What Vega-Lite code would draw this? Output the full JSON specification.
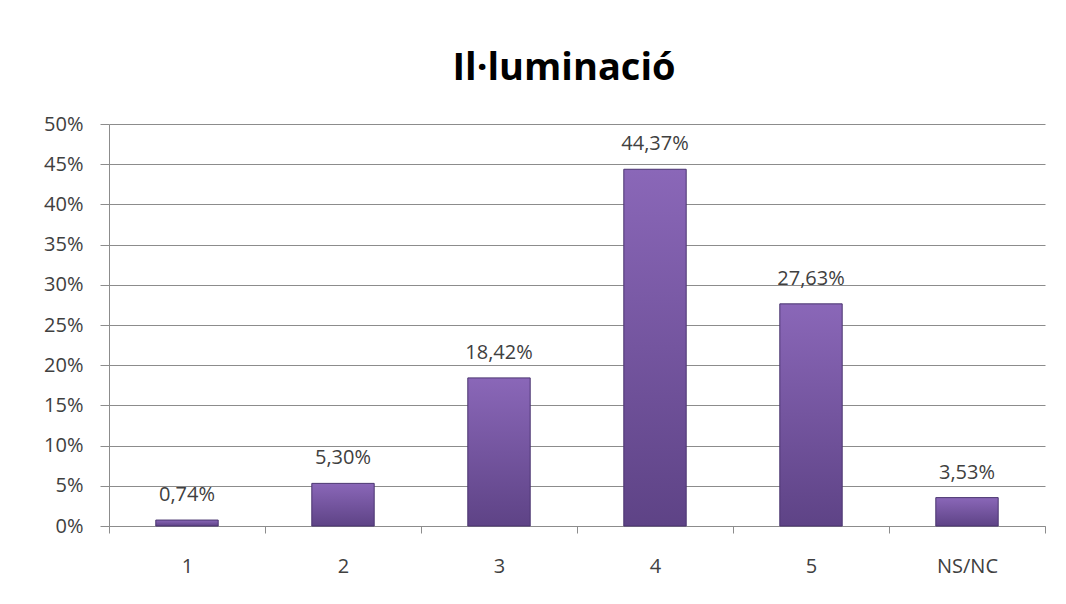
{
  "$schema": "https://vega.github.io/schema/vega-lite/v6.json",
  "autosize": "none",
  "width": 936,
  "height": 402,
  "padding": {"left": 109, "top": 124, "right": 21, "bottom": 78},
  "background": "white",
  "title": {
    "text": "Il·luminació",
    "font": "Open Sans",
    "fontSize": 38,
    "fontWeight": "bold",
    "color": "#000000",
    "anchor": "middle",
    "frame": "group",
    "dx": -13,
    "dy": 5,
    "offset": 31
  },
  "data": {
    "values": [
      {"cat": "1", "value": 0.0074},
      {"cat": "2", "value": 0.053},
      {"cat": "3", "value": 0.1842},
      {"cat": "4", "value": 0.4437},
      {"cat": "5", "value": 0.2763},
      {"cat": "NS/NC", "value": 0.0353}
    ]
  },
  "encoding": {
    "x": {
      "field": "cat",
      "type": "nominal",
      "sort": null,
      "scale": {"paddingInner": 0, "paddingOuter": 0},
      "axis": {
        "title": null,
        "labelAngle": 0,
        "tickBand": "extent",
        "tickSize": 7,
        "tickColor": "#8c8c8c",
        "domainColor": "#8c8c8c",
        "labelPadding": 23,
        "labelFont": "Open Sans",
        "labelFontSize": 20,
        "labelColor": "#404040",
        "grid": false
      }
    },
    "y": {
      "field": "value",
      "type": "quantitative",
      "scale": {"domain": [0, 0.5]},
      "axis": {
        "title": null,
        "format": ".0%",
        "values": [0, 0.05, 0.1, 0.15, 0.2, 0.25, 0.3, 0.35, 0.4, 0.45, 0.5],
        "tickSize": 9,
        "tickColor": "#8c8c8c",
        "domainColor": "#8c8c8c",
        "gridColor": "#8c8c8c",
        "labelPadding": 17,
        "labelFont": "Open Sans",
        "labelFontSize": 20,
        "labelColor": "#404040"
      }
    }
  },
  "layer": [
    {
      "mark": {
        "type": "bar",
        "width": {"band": 0.4},
        "stroke": "#4a3570",
        "strokeWidth": 1,
        "color": {
          "gradient": "linear",
          "x1": 0, "y1": 0, "x2": 0, "y2": 1,
          "stops": [
            {"offset": 0, "color": "#8a67b8"},
            {"offset": 1, "color": "#5e4386"}
          ]
        }
      }
    },
    {
      "mark": {
        "type": "text",
        "baseline": "alphabetic",
        "dy": -19,
        "font": "Open Sans",
        "fontSize": 20,
        "color": "#404040"
      },
      "encoding": {
        "text": {"field": "value", "type": "quantitative", "format": ".2%"}
      }
    }
  ],
  "config": {
    "view": {"stroke": null},
    "locale": {
      "number": {"decimal": ",", "thousands": ".", "grouping": [3], "currency": ["", " €"]}
    }
  }
}
